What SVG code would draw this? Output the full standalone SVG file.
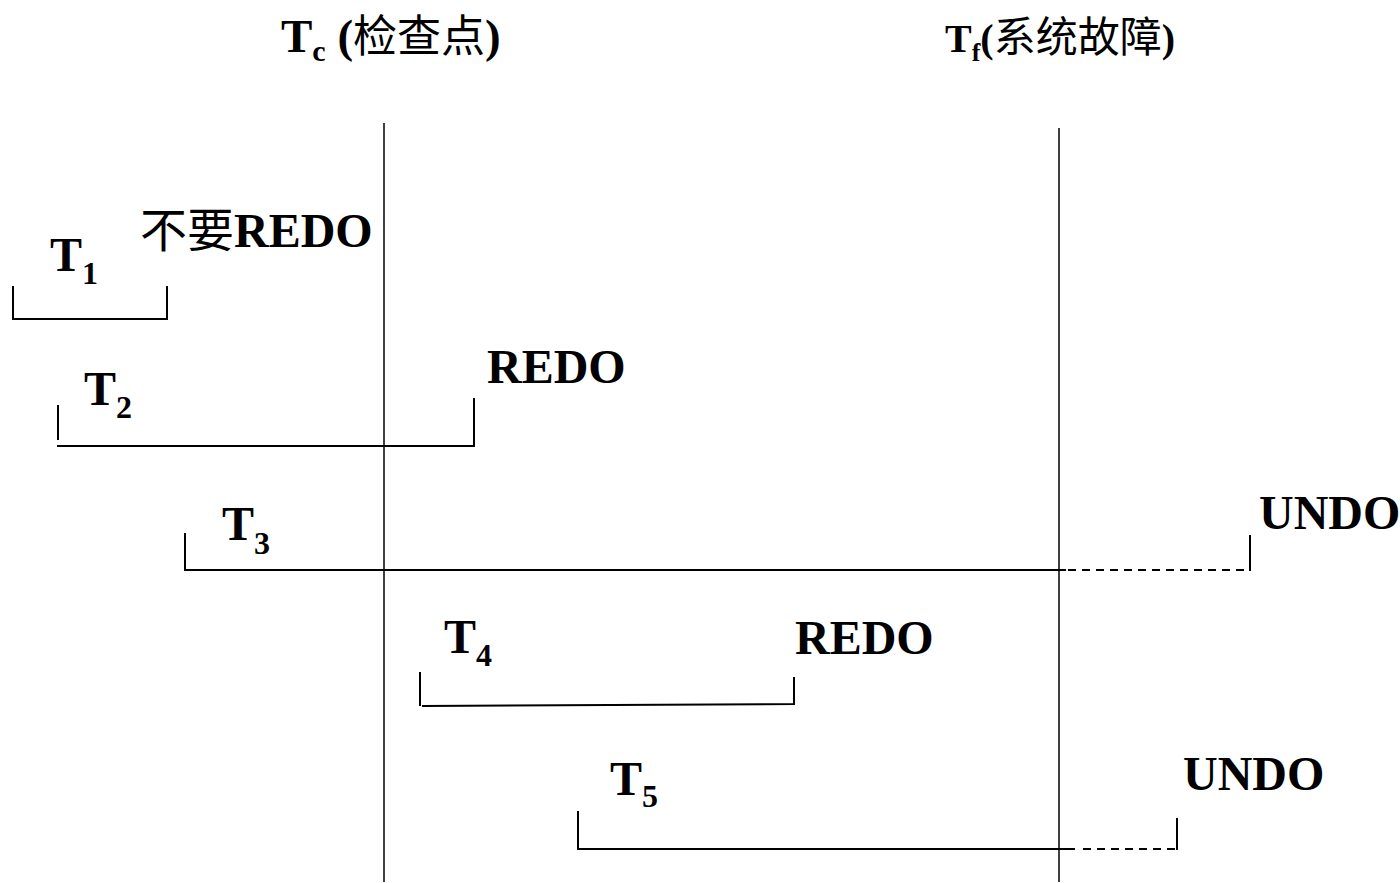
<svg xmlns="http://www.w3.org/2000/svg" width="1400" height="883" viewBox="0 0 1400 883">
<style>
.lat{font-family:"Liberation Serif","Times New Roman",serif;font-weight:bold;fill:#000}
.cjk{font-family:"Noto Sans CJK SC","Noto Sans",sans-serif;font-weight:normal}
.ln{stroke:#000;stroke-width:2;fill:none}
.ax{stroke:#000;stroke-width:1.5;fill:none}
.dash{stroke:#000;stroke-width:2;fill:none;stroke-dasharray:8 6}
</style>
<rect width="1400" height="883" fill="#fff"/>
<g id="axes">
<line class="ax" x1="384" y1="123" x2="384" y2="882"/>
<line class="ax" x1="1059" y1="128" x2="1059" y2="882"/>
<text id="tc-label" class="lat" x="281" y="52" font-size="47">T<tspan font-size="30" dy="9">c</tspan><tspan dy="-9"> (</tspan><tspan class="cjk" font-size="44">检查点</tspan>)</text>
<text id="tf-label" class="lat" x="945" y="52" font-size="40">T<tspan font-size="26" dy="9">f</tspan><tspan dy="-9">(</tspan><tspan class="cjk" font-size="42">系统故障</tspan>)</text>
</g>
<g id="connectors">
<g id="T1">
<path class="ln" d="M13,286 V319 H167 V286"/>
<text class="lat" x="50" y="271" font-size="48">T<tspan font-size="32" dy="13">1</tspan></text>
<text class="lat" x="140" y="247" font-size="48"><tspan class="cjk" font-size="47">不要</tspan>REDO</text>
</g>
<g id="T2">
<path class="ln" d="M58,405 V440"/>
<path class="ln" d="M57,446 H474 V398"/>
<text class="lat" x="84" y="405" font-size="48">T<tspan font-size="32" dy="13">2</tspan></text>
<text class="lat" x="487" y="383" font-size="48">REDO</text>
</g>
<g id="T3">
<path class="ln" d="M185,533 V570 H1066"/>
<path class="dash" d="M1068,570 H1250"/>
<path class="ln" d="M1250,535 V571"/>
<text class="lat" x="222" y="540" font-size="48">T<tspan font-size="32" dy="14">3</tspan></text>
<text class="lat" x="1259" y="529" font-size="48">UNDO</text>
</g>
<g id="T4">
<path class="ln" d="M420,672 V706"/>
<path class="ln" d="M422,706 L794,704 V677"/>
<text class="lat" x="444" y="653" font-size="48">T<tspan font-size="32" dy="13">4</tspan></text>
<text class="lat" x="795" y="654" font-size="48">REDO</text>
</g>
<g id="T5">
<path class="ln" d="M578,811 V849 H1075"/>
<path class="dash" d="M1083,849 H1177"/>
<path class="ln" d="M1177,818 V850"/>
<text class="lat" x="610" y="795" font-size="48">T<tspan font-size="32" dy="12">5</tspan></text>
<text class="lat" x="1183" y="790" font-size="48">UNDO</text>
</g>
</g>
</svg>
